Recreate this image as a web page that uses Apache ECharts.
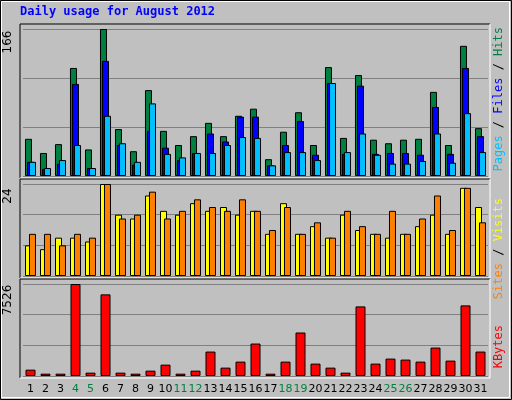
<!DOCTYPE html><html><head><meta charset="utf-8">
<script src="https://cdn.jsdelivr.net/npm/echarts@6/dist/echarts.min.js"></script>
<style>html,body{margin:0;padding:0;background:#C0C0C0}#c{width:512px;height:400px}</style></head><body><div id="c"></div>
<script>
const days=['1','2','3','4','5','6','7','8','9','10','11','12','13','14','15','16','17','18','19','20','21','22','23','24','25','26','27','28','29','30','31'];
const weekend=['4','5','11','12','18','19','25','26'];
const hits=[42,26,36,122,30,166,53,28,97,51,35,45,60,45,68,76,19,50,72,35,123,43,114,41,37,41,42,95,35,147,54];
const files=[16,8,14,104,9,130,35,13,51,32,18,26,48,39,67,67,12,35,62,24,105,25,102,25,26,26,24,78,25,122,45];
const pages=[16,9,18,35,9,68,37,16,82,25,21,26,26,35,44,43,12,27,27,18,105,27,48,24,14,14,17,48,15,71,27];
const visits=[8,7,10,10,9,24,16,15,21,17,16,19,17,18,16,17,11,19,11,13,10,16,12,11,10,11,13,16,11,23,18];
const sites=[11,11,8,11,10,24,15,16,22,15,17,20,18,17,20,17,12,18,11,14,10,17,13,11,17,11,15,21,12,23,14];
const kbytes=[520,190,190,7526,274,6678,274,190,438,930,190,438,1998,684,1177,2655,190,1177,3558,1013,684,274,5693,1013,1423,1341,1177,2326,1259,5775,1998];
const maxTop=166,maxMid=24,maxBot=7526;
const ch=echarts.init(document.getElementById('c'),null,{renderer:'canvas'});
const grids=[{left:23,width:465,top:29,height:147},{left:23,width:465,top:184,height:92},{left:23,width:465,top:284,height:92}];
function xa(i,show){return {type:'category',gridIndex:i,data:days,axisLine:{show:false},axisTick:{show:false},
 axisLabel:{show:show,interval:0,fontFamily:'DejaVu Sans',fontSize:11,margin:8,color:v=>weekend.includes(v)?'#008040':'#000'}};}
function ya(i,max){return {type:'value',gridIndex:i,min:0,max:max,interval:max/3,axisLabel:{show:false},axisLine:{show:false},axisTick:{show:false},splitLine:{lineStyle:{color:'#808080',width:1}}};}
const bs={borderColor:'#000',borderWidth:1};
function bar(name,data,i,color,w,gap,z){return {name,type:'bar',xAxisIndex:i,yAxisIndex:i,data,barWidth:w,barGap:gap,itemStyle:Object.assign({color},bs),z:z,animation:false};}
function frame(y1,y2){return [
 {type:'line',shape:{x1:20,y1:y1,x2:490,y2:y1},style:{stroke:'#000',lineWidth:1}},
 {type:'line',shape:{x1:20,y1:y1,x2:20,y2:y2},style:{stroke:'#000',lineWidth:1}},
 {type:'line',shape:{x1:20,y1:y2,x2:490,y2:y2},style:{stroke:'#fff',lineWidth:1}},
 {type:'line',shape:{x1:490,y1:y1,x2:490,y2:y2},style:{stroke:'#fff',lineWidth:1}}];}
const mono='"DejaVu Sans Mono"';
const F='12px '+mono;
ch.setOption({
 backgroundColor:'#C0C0C0',animation:false,
 grid:grids,
 xAxis:[xa(0,false),xa(1,false),xa(2,true)],
 yAxis:[ya(0,maxTop),ya(1,maxMid),ya(2,maxBot)],
 series:[
  bar('Hits',hits,0,'#008040',7,'-71%',2),
  bar('Files',files,0,'#0000FF',7,'-71%',3),
  bar('Pages',pages,0,'#00C0FF',7,'-71%',4),
  bar('Visits',visits,1,'#FFFF00',7,'-43%',2),
  bar('Sites',sites,1,'#FF8000',7,'-43%',3),
  bar('KBytes',kbytes,2,'#FF0000',10,'0%',2)
 ],
 graphic:[
  {type:'rect',shape:{x:0.5,y:0.5,width:511,height:399},style:{fill:'none',stroke:'#000',lineWidth:1}},
  {type:'rect',shape:{x:1.5,y:1.5,width:508,height:396},style:{fill:'none',stroke:'#fff',lineWidth:1}},
  {type:'text',x:20,y:6,style:{text:'Daily usage for August 2012',font:'bold 12px '+mono,fill:'#0000FF'}},
  ...frame(24,178),...frame(179,278),...frame(279,378),
  {type:'text',x:8,y:42,rotation:Math.PI/2,style:{text:'166',font:'12px "DejaVu Sans"',fill:'#000',textAlign:'center',textVerticalAlign:'middle'}},
  {type:'text',x:8,y:196,rotation:Math.PI/2,style:{text:'24',font:'12px "DejaVu Sans"',fill:'#000',textAlign:'center',textVerticalAlign:'middle'}},
  {type:'text',x:8,y:300,rotation:Math.PI/2,style:{text:'7526',font:'12px "DejaVu Sans"',fill:'#000',textAlign:'center',textVerticalAlign:'middle'}},
  {type:'text',x:499,y:27,rotation:Math.PI/2,style:{text:'{a|Pages}{k| / }{b|Files}{k| / }{c|Hits}',font:F,textAlign:'right',textVerticalAlign:'middle',
   rich:{a:{fill:'#00C0FF',font:F},b:{fill:'#0000FF',font:F},c:{fill:'#008040',font:F},k:{fill:'#000',font:F}}}},
  {type:'text',x:499,y:198,rotation:Math.PI/2,style:{text:'{a|Sites}{k| / }{b|Visits}',font:F,textAlign:'right',textVerticalAlign:'middle',
   rich:{a:{fill:'#FF8000',font:F},b:{fill:'#FFFF00',font:F},k:{fill:'#000',font:F}}}},
  {type:'text',x:499,y:325,rotation:Math.PI/2,style:{text:'KBytes',font:F,fill:'#FF0000',textAlign:'right',textVerticalAlign:'middle'}}
 ]
});
</script></body></html>
